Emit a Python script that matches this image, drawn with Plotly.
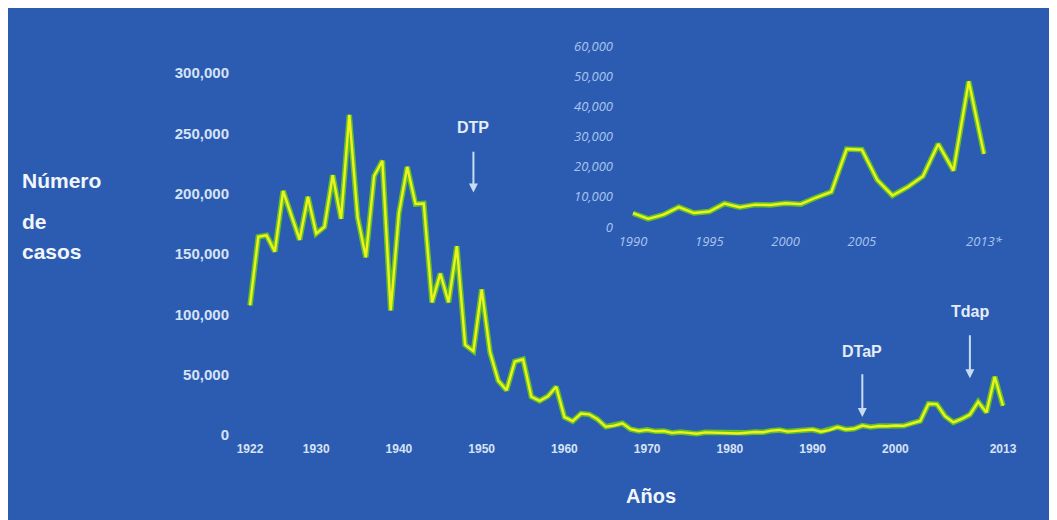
import plotly.graph_objects as go

# ---------------- data ----------------
years = list(range(1922, 2014))
cases = [
    107473, 164191, 165418, 152003, 202210, 181411, 161799, 197371, 166914, 172559,  # 1922-1931
    215343, 179135, 265269, 180518, 147237, 214652, 227319, 103188, 183866, 222202,  # 1932-1941
    191383, 191890, 109873, 133792, 109860, 156517, 74715, 69479, 120718, 68687,     # 1942-1951
    45030, 37129, 60886, 62786, 31732, 28295, 32148, 40005, 14809, 11468,            # 1952-1961
    17749, 17135, 13005, 6799, 7717, 9718, 4810, 3285, 4249, 3036,                   # 1962-1971
    3287, 1759, 2402, 1738, 1010, 2177, 2063, 1623, 1730, 1248,                      # 1972-1981
    1895, 2463, 2276, 3589, 4195, 2823, 3450, 4157, 4570, 2719,                      # 1982-1991
    4083, 6586, 4617, 5137, 7796, 6564, 7405, 7288, 7867, 7580,                      # 1992-2001
    9771, 11647, 25827, 25616, 15632, 10454, 13278, 16858, 27550, 18719,             # 2002-2011
    48277, 24231,                                                                    # 2012-2013
]

main_tick_years = [1922, 1930, 1940, 1950, 1960, 1970, 1980, 1990, 2000, 2013]
main_tick_text = ["1922", "1930", "1940", "1950", "1960", "1970", "1980", "1990", "2000", "2013"]
main_y_ticks = [0, 50000, 100000, 150000, 200000, 250000, 300000]
main_y_text = ["0", "50,000", "100,000", "150,000", "200,000", "250,000", "300,000"]

inset_start = 1990
inset_tick_years = [1990, 1995, 2000, 2005, 2013]
inset_tick_text = ["1990", "1995", "2000", "2005", "2013*"]
inset_y_ticks = [0, 10000, 20000, 30000, 40000, 50000, 60000]
inset_y_text = ["0", "10,000", "20,000", "30,000", "40,000", "50,000", "60,000"]

vaccines = ["DTP", "DTaP", "Tdap"]
vaccine_years = [1949, 1996, 2009]
vaccine_text_y = [255000, 69000, 102000]
vaccine_arrow_top = [236000, 51500, 84000]
vaccine_arrow_tip = [201000, 15000, 47000]

inset_years = [y for y in years if y >= inset_start]
inset_cases = [c for y, c in zip(years, cases) if y >= inset_start]

# ---------------- styles ----------------
BG = "#2c5cb2"
YEL = "#eef21c"
GRN = "#5fbf2a"
TICK = "#d6e3f5"
INSET_TXT = "#aac4ee"
WHITE = "#f2f6fb"

# page has an 8px body margin: figure pixel = reference pixel - 8
OFF = 8
W, H = 1057 - OFF, 520 - OFF
PL, PR, PT, PB = 230, 1027, 30, 440   # plot area in reference pixels
ML, MR, MT, MB = PL - OFF, W - (PR - OFF), PT - OFF, H - (PB - OFF)
PW = PR - PL
PH = PB - PT

def px_x(p):
    return (p - PL) / PW

def px_y(p):
    return (PB - p) / PH

fig = go.Figure()

# main line: green halo + yellow core
fig.add_trace(go.Scatter(x=years, y=cases, mode="lines",
                         line=dict(color=GRN, width=5.5), hoverinfo="skip", showlegend=False))
fig.add_trace(go.Scatter(x=years, y=cases, mode="lines",
                         line=dict(color=YEL, width=2.4), showlegend=False))

# inset line
fig.add_trace(go.Scatter(x=inset_years, y=inset_cases, mode="lines", xaxis="x2", yaxis="y2",
                         line=dict(color=GRN, width=5.5), hoverinfo="skip", showlegend=False))
fig.add_trace(go.Scatter(x=inset_years, y=inset_cases, mode="lines", xaxis="x2", yaxis="y2",
                         line=dict(color=YEL, width=2.4), showlegend=False))

annotations = []
for name, yr, ty, top, tip in zip(vaccines, vaccine_years, vaccine_text_y, vaccine_arrow_top, vaccine_arrow_tip):
    annotations.append(dict(x=yr, y=ty, xref="x", yref="y", text=name, showarrow=False,
                            font=dict(family="Liberation Sans, Arial", size=16, color="#e4ecf8", weight="bold")))
    annotations.append(dict(x=yr, y=tip, xref="x", yref="y", ax=yr, ay=top, axref="x", ayref="y",
                            text="", showarrow=True, arrowhead=2, arrowsize=0.9, arrowwidth=2,
                            arrowcolor="#c9dbf3"))

label_font = dict(family="Liberation Sans, Arial", size=21, color=WHITE, weight="bold")
for txt, py in [("Número", 180), ("de", 221), ("casos", 251)]:
    annotations.append(dict(x=px_x(20), y=px_y(py), xref="paper", yref="paper", text=txt,
                            showarrow=False, xanchor="left", yanchor="middle", font=label_font))
annotations.append(dict(x=px_x(651), y=px_y(496), xref="paper", yref="paper", text="Años",
                        showarrow=False, xanchor="center", yanchor="middle",
                        font=dict(family="Liberation Sans, Arial", size=20, color=WHITE, weight="bold")))

shapes = [dict(type="rect", xref="paper", yref="paper", layer="below",
               x0=px_x(0), x1=px_x(1051), y0=px_y(540), y1=px_y(0),
               fillcolor=BG, line=dict(width=0))]

# main axis ranges (pixel-calibrated, reference pixels)
ppx = 8.275  # px per year
x_lo = 1922 - (250 - PL) / ppx
x_hi = 2013 + (PR - 1003) / ppx
ppy = 60.33 / 50000
y_hi = 300000 + (73 - PT) / ppy
y_lo = -(PB - 435) / ppy

# inset geometry (reference pixels)
ix0, ix1, iy0, iy1 = 620, 1000, 40, 232
ippx = 15.26
ix_lo = 1990 - (633 - ix0) / ippx
ix_hi = 2013 + (ix1 - 984) / ippx
ippy = 30.1 / 10000
iy_lo = -(iy1 - 227) / ippy
iy_hi = 60000 + (46 - iy0) / ippy

fig.update_layout(
    width=W, height=H,
    margin=dict(l=ML, r=MR, t=MT, b=MB),
    paper_bgcolor="white",
    plot_bgcolor="rgba(0,0,0,0)",
    showlegend=False,
    xaxis=dict(range=[x_lo, x_hi], showgrid=False, zeroline=False, showline=False,
               tickvals=main_tick_years, ticktext=main_tick_text, ticks="",
               tickfont=dict(family="Liberation Sans, Arial", size=12, color=TICK, weight="bold")),
    yaxis=dict(range=[y_lo, y_hi], showgrid=False, zeroline=False, showline=False,
               tickvals=main_y_ticks, ticktext=main_y_text, ticks="",
               tickfont=dict(family="Liberation Sans, Arial", size=15, color=TICK, weight="bold")),
    xaxis2=dict(domain=[px_x(ix0), px_x(ix1)], anchor="y2", range=[ix_lo, ix_hi],
                showgrid=False, zeroline=False, showline=False, ticks="",
                tickvals=inset_tick_years, ticktext=inset_tick_text,
                tickfont=dict(family="Open Sans", size=13, color=INSET_TXT, style="italic")),
    yaxis2=dict(domain=[px_y(iy1), px_y(iy0)], anchor="x2", range=[iy_lo, iy_hi],
                showgrid=False, zeroline=False, showline=False, ticks="",
                tickvals=inset_y_ticks, ticktext=inset_y_text, ticklabelstandoff=6,
                tickfont=dict(family="Open Sans", size=13, color=INSET_TXT, style="italic")),
    annotations=annotations,
    shapes=shapes,
)

fig.write_html("out.html")
